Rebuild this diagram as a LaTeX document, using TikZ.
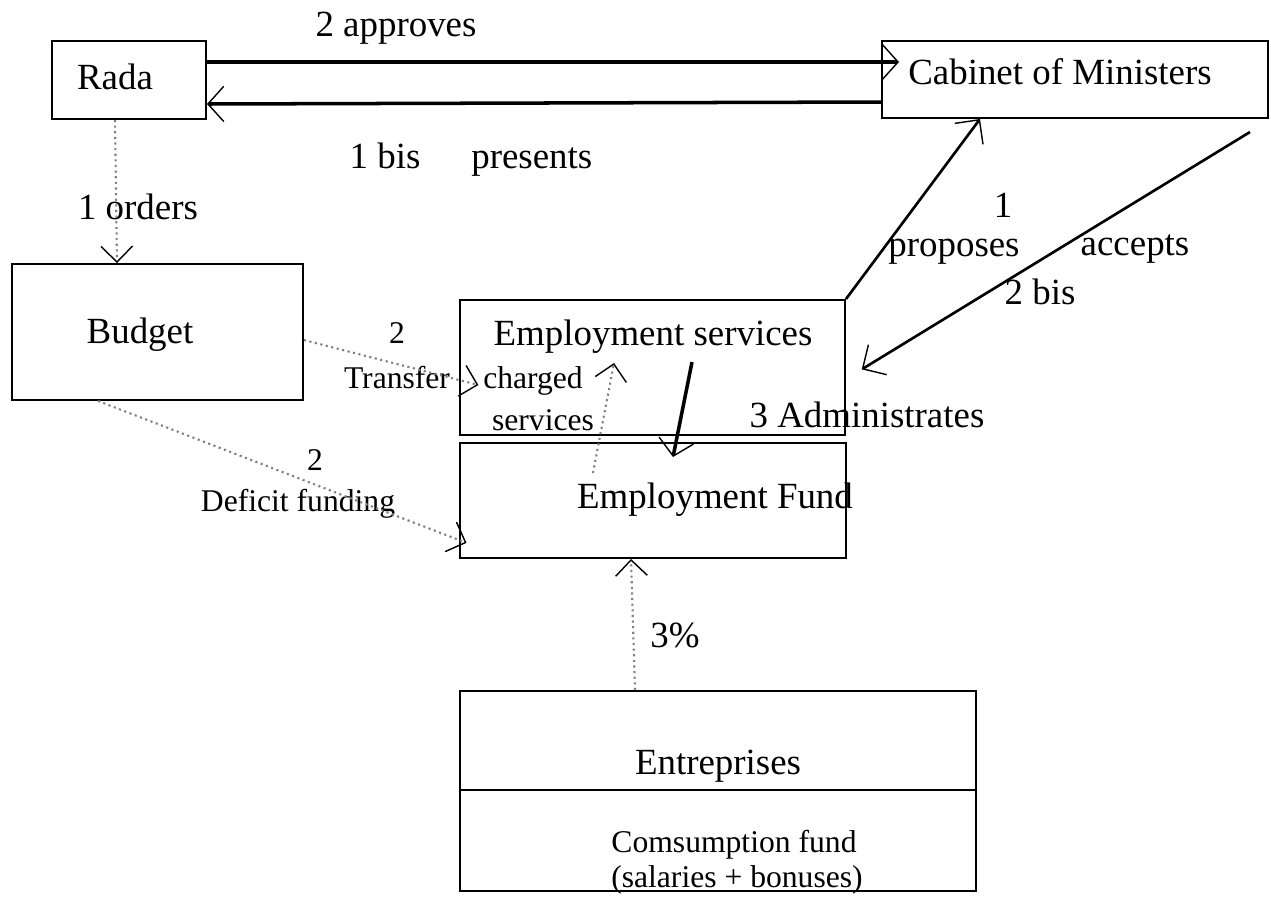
\documentclass[tikz,border=0pt]{standalone}
\usepackage{fontspec}
\setmainfont{Liberation Serif}
\usetikzlibrary{arrows.meta,fit}
\begin{document}
\begin{tikzpicture}[x=0.02cm, y=-0.02cm, font=\fontsize{21}{25}\selectfont,
    box/.style={draw, line width=1.1pt, inner sep=0pt},
    small/.style={font=\fontsize{18}{21}\selectfont},
    dots/.style={draw=gray, dotted, line width=1.2pt, -{Straight Barb[length=9pt, width=18pt, color=black, line width=0.8pt]}},
    heavy/.style={line width=2pt, -{Straight Barb[length=9pt, width=20pt, line width=0.8pt]}},
    med/.style={line width=1.5pt, -{Straight Barb[length=10pt, width=20pt, line width=0.8pt]}}]
    \useasboundingbox (0,0) rectangle (1271,897);
    % boxes
    \node[box, fit={(52,41) (206,119)}] (rada) {};
    \node[box, fit={(882,41) (1268,118)}] (cabinet) {};
    \node[box, fit={(12,264) (303,400)}] (budget) {};
    \node[box, fit={(460,300) (845,435)}] (emps) {};
    \node[box, fit={(460,443) (846,558)}] (fund) {};
    \node[box, fit={(460,691) (976,790)}] (entr) {}; \node[box, fit={(460,790) (976,891)}] (cons) {};
    % texts
    \node (radat) at (115,77) {Rada}; \node (cabt) at (1060,72) {Cabinet of Ministers};
    \node (apvt) at (396,28) {2 approves}; \node (prest) at (471,160) {1 bis\hspace{29pt}presents};
    \node (ordt) at (138,207) {1 orders}; \node (budt) at (140,335) {Budget};
    \node (empst) at (653,337) {Employment services}; \node (fundt) at (715,500) {Employment Fund};
    \node (admt) at (867,415) {3 Administrates};
    \node[small] (trn) at (397,333) {2}; \node[small] (trt) at (397,378) {Transfer};
    \node[small] (chgt) at (533,381) {charged}; \node[small] (srvt) at (543,420) {services};
    \node[small] (defn) at (315,460) {2}; \node[small] (deft) at (298,504) {Deficit funding};
    \node (prn) at (1003,205) {1}; \node (prt) at (954,252) {proposes};
    \node (acct) at (1135,249) {accepts}; \node (bist) at (1040,292) {2 bis};
    \node (pct) at (675,635) {3\%}; \node (entt) at (718,766) {Entreprises};
    \node[small] (cft) at (734,845) {Comsumption fund}; \node[small] (salt) at (737,880) {(salaries + bonuses)};
    % connectors
    \coordinate (chgfrom) at (593,473); \coordinate (chgto) at (614,363);
    \coordinate (admfrom) at (692,362); \coordinate (admto) at (673,457);
    \coordinate (accfrom) at (1250,132);
    \draw[heavy, shorten >=-0.36cm] (rada.east |- 0,62) -- (cabinet.west |- 0,62);
    \draw[heavy] (cabinet.west |- 0,102) -- (rada.east |- 0,104);
    \draw[dots] (rada.south -| 115,0) -- (budget.north -| 117,0);
    \draw[dots, shorten >=-0.4cm] (budget.east |- 0,340) -- (emps.west |- 0,380);
    \draw[dots, shorten >=-0.16cm] (budget.south -| 98,0) -- (fund.west |- 0,540);
    \draw[dots] (chgfrom) -- (chgto);
    \draw[heavy] (admfrom) -- (admto);
    \draw[med] (emps.north east) -- (cabinet.south -| 980,0);
    \draw[med, shorten >=0.37cm] (accfrom) -- (emps.east |- 0,379);
    \draw[dots] (entr.north -| 635,0) -- (fund.south -| 631,0); % 3%
\end{tikzpicture}
\end{document}
